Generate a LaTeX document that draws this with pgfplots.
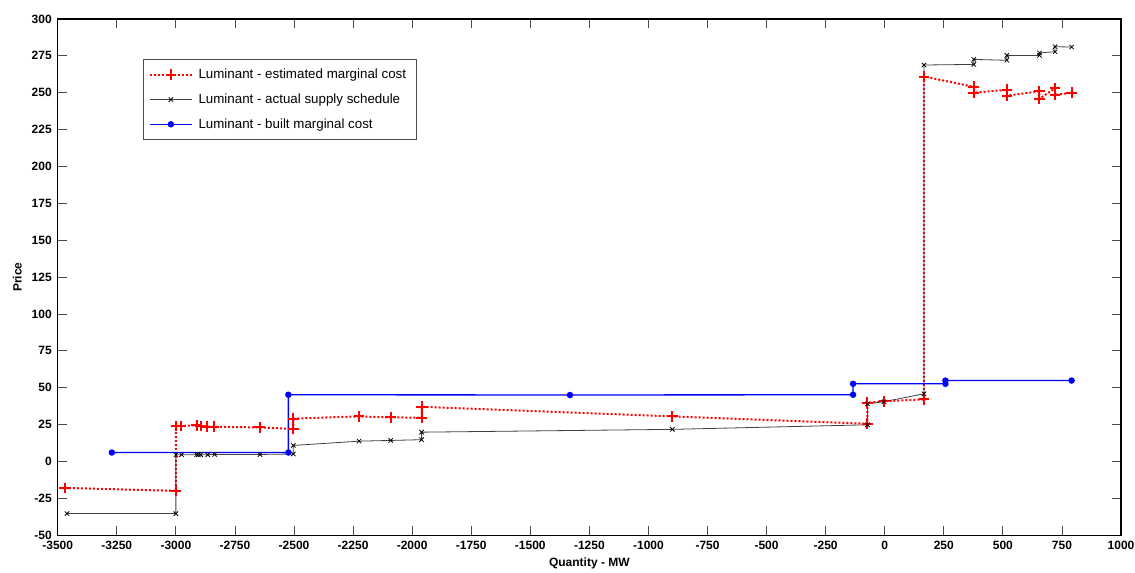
\documentclass[border=0pt]{standalone}
\usepackage{pgfplots}
\pgfplotsset{compat=1.18}
\usepackage{fontspec}
\setmainfont{Liberation Sans}
\begin{document}
\begin{tikzpicture}
\begin{axis}[
  scale only axis,
  width=797.3pt, height=387pt,
  xmin=-3500, xmax=1000, ymin=-50, ymax=300,
  xtick={-3500,-3250,...,1000},
  xticklabels={-3500,-3250,-3000,-2750,-2500,-2250,-2000,-1750,-1500,-1250,-1000,-750,-500,-250,0,250,500,750,1000},
  ytick={-50,-25,...,300},
  yticklabels={-50,-25,0,25,50,75,100,125,150,175,200,225,250,275,300},
  tick align=inside,
  major tick length=7pt,
  tick style={black!70, line width=0.6pt},
  axis line style={black, line width=0.8pt},
  tick label style={font=\bfseries\fontsize{9}{10}\selectfont},
  xticklabel style={yshift=-1pt},
  yticklabel style={xshift=-1pt},
  xlabel={Quantity - MW},
  ylabel={Price},
  xlabel style={font=\bfseries\fontsize{9}{10}\selectfont, at={(axis description cs:0.5,-0.054)}, anchor=center},
  ylabel style={font=\bfseries\fontsize{9}{10}\selectfont, at={(axis description cs:-0.038,0.5)}, anchor=center, rotate=0},
  legend cell align=left,
  legend style={at={(rel axis cs:0.080,0.922)}, anchor=north west, draw=black!70, line width=0.6pt,
    font=\fontsize{10}{12}\selectfont, row sep=5.8pt, inner xsep=4pt, inner ysep=5pt,
    nodes={inner xsep=4pt}},
  legend image code/.code={\draw[#1, mark repeat=2, mark phase=2] plot coordinates {(0pt,0pt) (16pt,0pt) (32pt,0pt)};},
  clip=false,
]
\coordinate (bl) at (rel axis cs:0,0);
\coordinate (tr) at (rel axis cs:1,1);
% estimated marginal cost
\addplot[red, line width=1.5pt, dash pattern=on 1.5pt off 1.5pt, mark=+, mark size=4pt, mark options={solid, line width=1.5pt}] coordinates {
(-3470,-18) (-3000,-20) (-3000,24) (-2980,24) (-2912,24.5) (-2895,24) (-2870,23.5) (-2840,23.5)
(-2646,23) (-2503,22) (-2503,29) (-2225,30.5) (-2091,29.8) (-1960,29.7) (-1960,37)
(-899,30.5) (-73,25.5) (-73,39.7) (-3,40.8) (166,42) (166,261)
(377,254) (377,250) (517,252) (517,248) (655,251) (655,246) (721,253) (721,248.5) (791,250)
};
\addlegendentry{Luminant - estimated marginal cost}
% actual supply schedule
\addplot[black!75, line width=0.6pt, mark=x, mark size=2.3pt, mark options={black, line width=0.6pt}] coordinates {
(-3461,-35.4) (-3000,-35.4) (-3000,4.5) (-2976,4.5) (-2912,4.5) (-2905,4.5) (-2895,4.5) (-2865,4.5)
(-2836,4.7) (-2644,4.7) (-2503,5) (-2503,10.8) (-2225,13.7) (-2091,14.2) (-1960,14.7) (-1960,19.8)
(-899,21.7) (-73,24.8) (-73,39) (-3,40.5) (166,45.8) (166,268.8)
(377,269.2) (377,272.6) (517,272) (517,275.3) (655,275.3) (655,277) (721,277.8) (721,281.2) (791,281)
};
\addlegendentry{Luminant - actual supply schedule}
% built marginal cost
\addplot[blue, line width=1pt, mark=*, mark size=1.9pt, mark options={blue}] coordinates {
(-3271,6) (-2524,6) (-2524,45.2) (-1332,45) (-134,45.2) (-134,52.6) (257,52.6) (257,54.8) (791,54.8)
};
\addlegendentry{Luminant - built marginal cost}
\end{axis}
\pgfresetboundingbox
\useasboundingbox ([shift={(-43.3pt,-27.75pt)}]bl) rectangle ([shift={(10.5pt,14.25pt)}]tr);
\end{tikzpicture}
\end{document}
